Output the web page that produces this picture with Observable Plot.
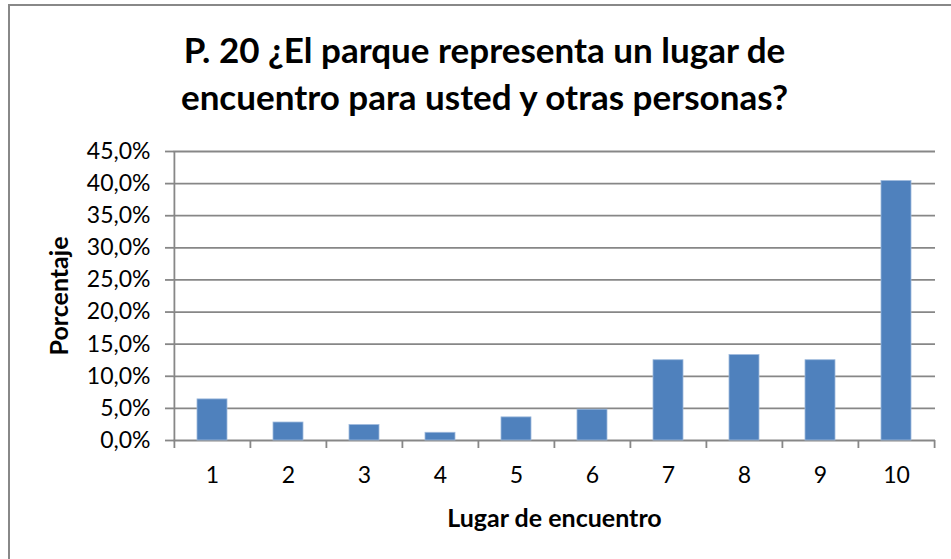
<!DOCTYPE html>
<html><head><meta charset="utf-8">
<script src="https://cdn.jsdelivr.net/npm/d3@7"></script>
<script src="https://cdn.jsdelivr.net/npm/@observablehq/plot@0.6"></script>
<style>
body{margin:0;background:#fff;}
#wrap{position:relative;width:951px;height:559px;overflow:hidden;background:#fff;}
#border{position:absolute;left:8px;top:4px;width:1000px;height:1000px;border-left:2px solid #888;border-top:2px solid #888;}
#chart{position:absolute;left:0;top:0;}
</style></head><body>
<div id="wrap"><div id="border"></div><div id="chart"></div></div>
<script>
const categories = ["1","2","3","4","5","6","7","8","9","10"];
const values = [6.4, 2.8, 2.4, 1.2, 3.6, 4.8, 12.5, 13.3, 12.5, 40.4];
const yTicks = [0,5,10,15,20,25,30,35,40,45];
const titleLines = ["P. 20 ¿El parque representa un lugar de", "encuentro para usted y otras personas?"];
const xLabel = "Lugar de encuentro";
const yLabel = "Porcentaje";

const data = categories.map((c,i)=>({cat:c, value:values[i]}));
const fmt = v => v.toFixed(1).replace(".", ",") + "%";
const W = 951, H = 559, mL = 173, mR = 16, mT = 151, mB = 119;
const step = (W - mL - mR) / categories.length;
const grid = "#878787";
const font = "Lato, 'Open Sans', sans-serif";

const plot = Plot.plot({
  width: W, height: H, marginLeft: mL, marginRight: mR, marginTop: mT, marginBottom: mB,
  style: {fontFamily: font, fontSize: "23px", color: "#000", background: "transparent", overflow: "visible"},
  x: {domain: categories, paddingInner: 0.6, paddingOuter: 0.3, label: null},
  y: {domain: [0, 45], ticks: yTicks, label: null},
  marks: [
    Plot.gridY(yTicks, {stroke: grid, strokeOpacity: 1, strokeWidth: 1.8}),
    Plot.barY(data, {x: "cat", y: "value", fill: "#4F81BD", stroke: "#9DB9DC", strokeWidth: 0.8}),
    Plot.ruleX([categories[0]], {dx: -step/2, stroke: grid, strokeWidth: 1.8}),
    Plot.axisY(yTicks, {tickFormat: fmt, tickSize: 8, tickPadding: 15, stroke: grid, strokeWidth: 1.8, fontSize: 23, fill: "#000"}),
    Plot.axisX(categories, {tickSize: 8, tickFormat: () => "", dx: -step/2, stroke: grid, strokeWidth: 1.8}),
    Plot.axisX([categories[categories.length-1]], {tickSize: 8, tickFormat: () => "", dx: step/2, stroke: grid, strokeWidth: 1.8}),
    Plot.axisX(categories, {tickSize: 0, tickPadding: 26, fontSize: 23, fill: "#000"}),
    Plot.text([titleLines.join("\n")], {frameAnchor: "top", dx: -70, dy: -80, lineAnchor: "middle", lineHeight: 1.33, fontSize: 35, fontWeight: "bold", fill: "#000"}),
    Plot.text([xLabel], {frameAnchor: "bottom", dy: 78, lineAnchor: "middle", fontSize: 25, fontWeight: "bold", fill: "#000"}),
    Plot.text([yLabel], {frameAnchor: "left", dx: -114, rotate: -90, textAnchor: "middle", lineAnchor: "middle", fontSize: 25, fontWeight: "bold", fill: "#000"})
  ]
});
document.getElementById("chart").appendChild(plot);
</script>
</body></html>
